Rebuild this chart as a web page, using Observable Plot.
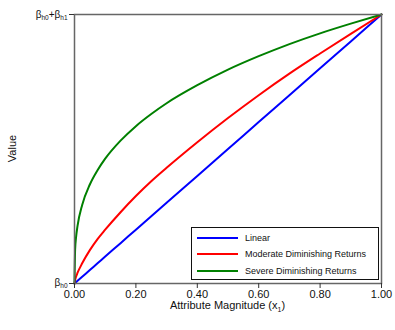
<!DOCTYPE html>
<html>
<head>
<meta charset="utf-8">
<script src="https://cdn.jsdelivr.net/npm/d3@7"></script>
<script src="https://cdn.jsdelivr.net/npm/@observablehq/plot@0.6"></script>
<style>
  html, body { margin: 0; padding: 0; background: #fff; }
  #wrap { position: relative; width: 395px; height: 330px; font-family: "Liberation Sans", Arial, sans-serif; }
  #legend { position: absolute; left: 191px; top: 227px; width: 186px; height: 51px; border: 1px solid #111; background: #fff; box-sizing: content-box; }
  .row { position: absolute; left: 0; height: 12px; display: flex; align-items: center; font-size: 9px; color: #111; }
  .sw { display: inline-block; width: 41px; height: 2px; margin-left: 5px; margin-right: 7px; }
</style>
</head>
<body>
<div id="wrap"></div>
<script>
// ---- data ----
const seriesNames = ["Linear", "Moderate Diminishing Returns", "Severe Diminishing Returns"];
const seriesColors = ["#0000ff", "#ff0000", "#008000"];

const curveX   = [0, 0.002, 0.005, 0.01, 0.025, 0.05, 0.075, 0.1, 0.15, 0.2, 0.25, 0.3, 0.4, 0.5, 0.6, 0.7, 0.8, 0.9, 1.0];
const linearY  = [0, 0.002, 0.005, 0.01, 0.025, 0.05, 0.075, 0.1, 0.15, 0.2, 0.25, 0.3, 0.4, 0.5, 0.6, 0.7, 0.8, 0.9, 1.0];
const moderateY= [0, 0.013, 0.025, 0.04, 0.075, 0.124, 0.165, 0.2, 0.265, 0.325, 0.38, 0.43, 0.525, 0.615, 0.70, 0.78, 0.855, 0.928, 1.0];
const severeY  = [0, 0.126, 0.171, 0.215, 0.292, 0.368, 0.421, 0.464, 0.531, 0.585, 0.63, 0.67, 0.737, 0.795, 0.845, 0.89, 0.93, 0.966, 1.0];

const xTicks = [0, 0.2, 0.4, 0.6, 0.8, 1.0];
const yTicks = [0, 1];
const yTickLabels = ["β_{h0}", "β_{h0}+β_{h1}"];
const xAxisTitle = "Attribute Magnitude (x_{1})";
const yAxisTitle = "Value";

// ---- build table ----
const seriesValues = [linearY, moderateY, severeY];
const rows = [];
seriesNames.forEach((name, s) => {
  curveX.forEach((x, i) => rows.push({series: name, x, y: seriesValues[s][i]}));
});

const plain = s => s.replace(/_\{([^}]*)\}/g, "$1");

const chart = Plot.plot({
  width: 395,
  height: 330,
  marginLeft: 74,
  marginRight: 14,
  marginTop: 14,
  marginBottom: 47,
  style: { fontFamily: "'Liberation Sans', Arial, sans-serif", fontSize: "11px", background: "#fff", color: "#111" },
  x: { domain: [0, 1] },
  y: { domain: [0, 1] },
  color: { domain: seriesNames, range: seriesColors },
  marks: [
    Plot.line(rows, { x: "x", y: "y", z: "series", stroke: "series", strokeWidth: 2, curve: "monotone-x" }),
    Plot.frame({ stroke: "#666", strokeWidth: 1.5 }),
    Plot.axisX({ ticks: xTicks, tickFormat: d3.format(".2f"), tickSize: 5, tickPadding: 2, label: null, stroke: "#333", fontSize: 11 }),
    Plot.axisY({ ticks: yTicks, tickFormat: (d) => plain(yTickLabels[yTicks.indexOf(d)]), tickSize: 5, tickPadding: 2, label: null, stroke: "#333", fontSize: 10 })
  ]
});

document.getElementById("wrap").appendChild(chart);
const svg = d3.select(chart);

// write text with subscripts into a d3 text selection
function writeRich(textSel, str, subSize, shift) {
  textSel.text(null);
  const parts = str.split(/(_\{[^}]*\})/).filter(p => p.length);
  let shifted = false;
  parts.forEach(p => {
    const m = p.match(/^_\{([^}]*)\}$/);
    if (m) {
      textSel.append("tspan").attr("dy", shift).attr("font-size", subSize).text(m[1]);
      shifted = true;
    } else {
      const t = textSel.append("tspan").text(p);
      if (shifted) { t.attr("dy", -shift); shifted = false; }
    }
  });
}

// y tick labels with subscripts (bottom label nudged up slightly so it clears "0.00")
svg.selectAll('g[aria-label="y-axis tick label"] text').each(function(d, i) {
  const sel = d3.select(this);
  writeRich(sel, yTickLabels[i], 6.5, 2);
  if (i === 0) sel.attr("dy", "-0.05em");
});

// axis titles
const xs = chart.scale("x"), ys = chart.scale("y");
const xMid = (xs.range[0] + xs.range[1]) / 2;
const yMid = (ys.range[0] + ys.range[1]) / 2;
const xt = svg.append("text")
  .attr("x", xMid).attr("y", 309)
  .attr("text-anchor", "middle")
  .attr("font-size", 11).attr("fill", "#111");
writeRich(xt, xAxisTitle, 7, 3);
svg.append("text")
  .attr("transform", `translate(15.5,${yMid}) rotate(-90)`)
  .attr("text-anchor", "middle")
  .attr("font-size", 11).attr("fill", "#111")
  .text(yAxisTitle);

// legend (HTML overlay inside the plot)
const legend = d3.select("#wrap").append("div").attr("id", "legend");
seriesNames.forEach((name, i) => {
  const row = legend.append("div").attr("class", "row").style("top", (4 + i * 16.3) + "px");
  row.append("span").attr("class", "sw").style("background", seriesColors[i]);
  row.append("span").text(name);
});
</script>
</body>
</html>
